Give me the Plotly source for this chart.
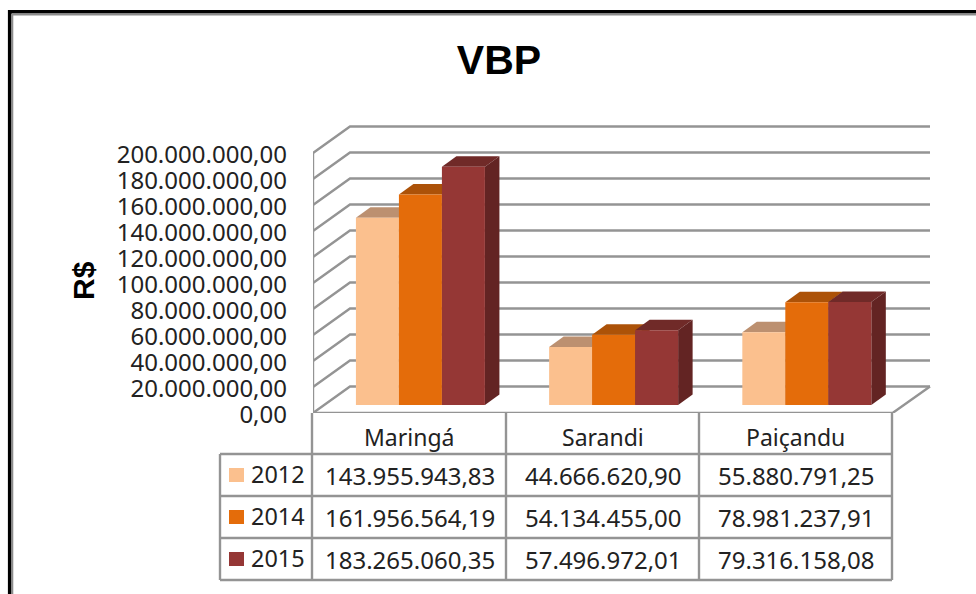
import plotly.graph_objects as go

W, H = 976, 594
title = "VBP"
y_title = "R$"
categories = ["Maringá", "Sarandi", "Paiçandu"]
years = ["2012", "2014", "2015"]
values_2012 = [143955943.83, 44666620.90, 55880791.25]
values_2014 = [161956564.19, 54134455.00, 78981237.91]
values_2015 = [183265060.35, 57496972.01, 79316158.08]
tick_values = [0, 20e6, 40e6, 60e6, 80e6, 100e6, 120e6, 140e6, 160e6, 180e6, 200e6]
front_colors = ["#FBC08E", "#E46C0A", "#953735"]
top_colors = ["#BC9070", "#AC5208", "#702A28"]
side_colors = ["#BC9070", "#8F4507", "#632423"]
GRID = "#949494"
INK = "#222222"
FONT = "Noto Sans, sans-serif"

series = [values_2012, values_2014, values_2015]


def br(v):
    return f"{v:,.2f}".replace(",", "X").replace(".", ",").replace("X", ".")


def fx(x):
    return x / W


def fy(y):
    return 1 - y / H


# plot geometry in page pixels
X0, Y0, X_END, Y_END = 313, 413, 935, 120
CAT_PX = 193.2
PX_PER_UNIT = 1.3e-6
xmax = (X_END - X0) / CAT_PX
ymax = (Y0 - Y_END) / PX_PER_UNIT
wall_dx = 37 / CAT_PX
wall_dy = 26.5 / PX_PER_UNIT
wall_right = (930 - X0) / CAT_PX
bar_w = 43 / CAT_PX
bar_base = 8 / PX_PER_UNIT
group_shift = 0.056
face_dx = 14.5 / CAT_PX
face_dy = 10.5 / PX_PER_UNIT

# gridlines: diagonal on the left side wall, horizontal on the back wall
gx, gy = [], []
for t in tick_values:
    gx += [0, wall_dx, wall_right, None]
    gy += [t, t + wall_dy, t + wall_dy, None]
# axis and floor
gx += [0, 0, None, 0, 3, wall_right, None]
gy += [0, tick_values[-1], None, 0, 0, wall_dy, None]

traces = [go.Scatter(x=gx, y=gy, mode="lines", line=dict(color=GRID, width=2.4),
                     hoverinfo="skip", showlegend=False, xaxis="x", yaxis="y")]


def bar_left(cat_i, s_i):
    return cat_i + 0.5 + group_shift + (s_i - 1.5) * bar_w


# top and side faces, behind the front faces
for s_i, vals in enumerate(series):
    for c_i, v in enumerate(vals):
        l = bar_left(c_i, s_i)
        r = l + bar_w
        top = bar_base + v
        traces.append(go.Scatter(
            x=[l, r, r + face_dx, l + face_dx, l],
            y=[top, top, top + face_dy, top + face_dy, top],
            mode="lines", fill="toself", fillcolor=top_colors[s_i], line=dict(width=0),
            hoverinfo="skip", showlegend=False, xaxis="x", yaxis="y"))
        traces.append(go.Scatter(
            x=[r, r + face_dx, r + face_dx, r, r],
            y=[bar_base, bar_base + face_dy, top + face_dy, top, bar_base],
            mode="lines", fill="toself", fillcolor=side_colors[s_i], line=dict(width=0),
            hoverinfo="skip", showlegend=False, xaxis="x", yaxis="y"))

# front faces, in a second subplot so they paint over the faces above
for s_i, vals in enumerate(series):
    traces.append(go.Bar(
        x=[bar_left(c, s_i) + bar_w / 2 for c in range(len(categories))],
        y=vals, base=bar_base, width=bar_w, name=years[s_i],
        marker=dict(color=front_colors[s_i], line=dict(width=0)),
        showlegend=False, xaxis="x2", yaxis="y2"))

fig = go.Figure(traces)

dom_x = [fx(X0), fx(X_END)]
dom_y = [fy(Y0), fy(Y_END)]
hidden = dict(visible=False, fixedrange=True)

shapes = []


def line(x0, y0, x1, y1, color=GRID, width=2.4, layer="above"):
    shapes.append(dict(type="line", xref="paper", yref="paper", x0=fx(x0), y0=fy(y0),
                       x1=fx(x1), y1=fy(y1), line=dict(color=color, width=width), layer=layer))


# page frame
line(8, 11.7, 976, 11.7, "#000000", 3.6)
line(9.7, 10, 9.7, 594, "#000000", 3.6)
line(12, 14.5, 976, 14.5, "#8C8C8C", 2)
line(12.3, 14, 12.3, 594, "#8C8C8C", 2)

# data table
col_x = [312, 506, 699, 892]
row_y = [413, 454, 496, 538, 580]
TABLE_LEFT = 220
for x in col_x:
    line(x, row_y[0], x, row_y[-1])
line(TABLE_LEFT, row_y[1], TABLE_LEFT, row_y[-1])
line(TABLE_LEFT, row_y[1], col_x[-1], row_y[1])
for y in row_y[2:]:
    line(TABLE_LEFT, y, col_x[-1], y)

annotations = []


def label(text, x, y, size=24, xanchor="center", color=INK, family=FONT, **kw):
    annotations.append(dict(text=text, x=fx(x), y=fy(y), xref="paper", yref="paper",
                            xanchor=xanchor, yanchor="middle", showarrow=False,
                            font=dict(family=family, size=size, color=color), **kw))


for c_i, cat in enumerate(categories):
    cx = (col_x[c_i] + col_x[c_i + 1]) / 2
    label(cat, cx, 437.5, size=23)
    for s_i, vals in enumerate(series):
        label(br(vals[c_i]), cx + 1, (row_y[s_i + 1] + row_y[s_i + 2]) / 2)

for s_i, yr in enumerate(years):
    cy = (row_y[s_i + 1] + row_y[s_i + 2]) / 2
    shapes.append(dict(type="rect", xref="paper", yref="paper", x0=fx(229), x1=fx(244),
                       y0=fy(cy - 7), y1=fy(cy + 7), fillcolor=front_colors[s_i],
                       line=dict(width=0), layer="above"))
    label(yr, 249, cy - 1.5, size=23.4, xanchor="left")

label(y_title, 83, 281, size=30, color="#000000", family="Liberation Sans, Arial, sans-serif",
      textangle=-90)
annotations[-1]["font"]["weight"] = "bold"

fig.update_layout(
    width=W, height=H, autosize=False,
    margin=dict(l=0, r=0, t=0, b=0, autoexpand=False),
    paper_bgcolor="white", plot_bgcolor="rgba(0,0,0,0)",
    barmode="overlay", showlegend=False,
    title=dict(text=title, x=499 / W, y=fy(60), xref="paper", yref="paper",
               xanchor="center", yanchor="middle",
               font=dict(family="Liberation Sans, Arial, sans-serif", size=41,
                         color="#000000", weight="bold")),
    xaxis=dict(domain=dom_x, range=[0, xmax], **hidden),
    xaxis2=dict(domain=dom_x, range=[0, xmax], anchor="y2", **hidden),
    yaxis=dict(domain=dom_y, range=[0, ymax], fixedrange=True, showgrid=False, zeroline=False,
               showline=False, ticks="", tickmode="array", tickvals=tick_values,
               ticktext=[br(t) for t in tick_values], ticklabelstandoff=25,
               ticklabelshift=2,
               tickfont=dict(family=FONT, size=24, color=INK)),
    yaxis2=dict(domain=dom_y, range=[0, ymax], anchor="x2", **hidden),
    shapes=shapes, annotations=annotations,
)

fig.write_html("out.html", post_script="document.body.style.margin='0';",
               config=dict(displayModeBar=False))
